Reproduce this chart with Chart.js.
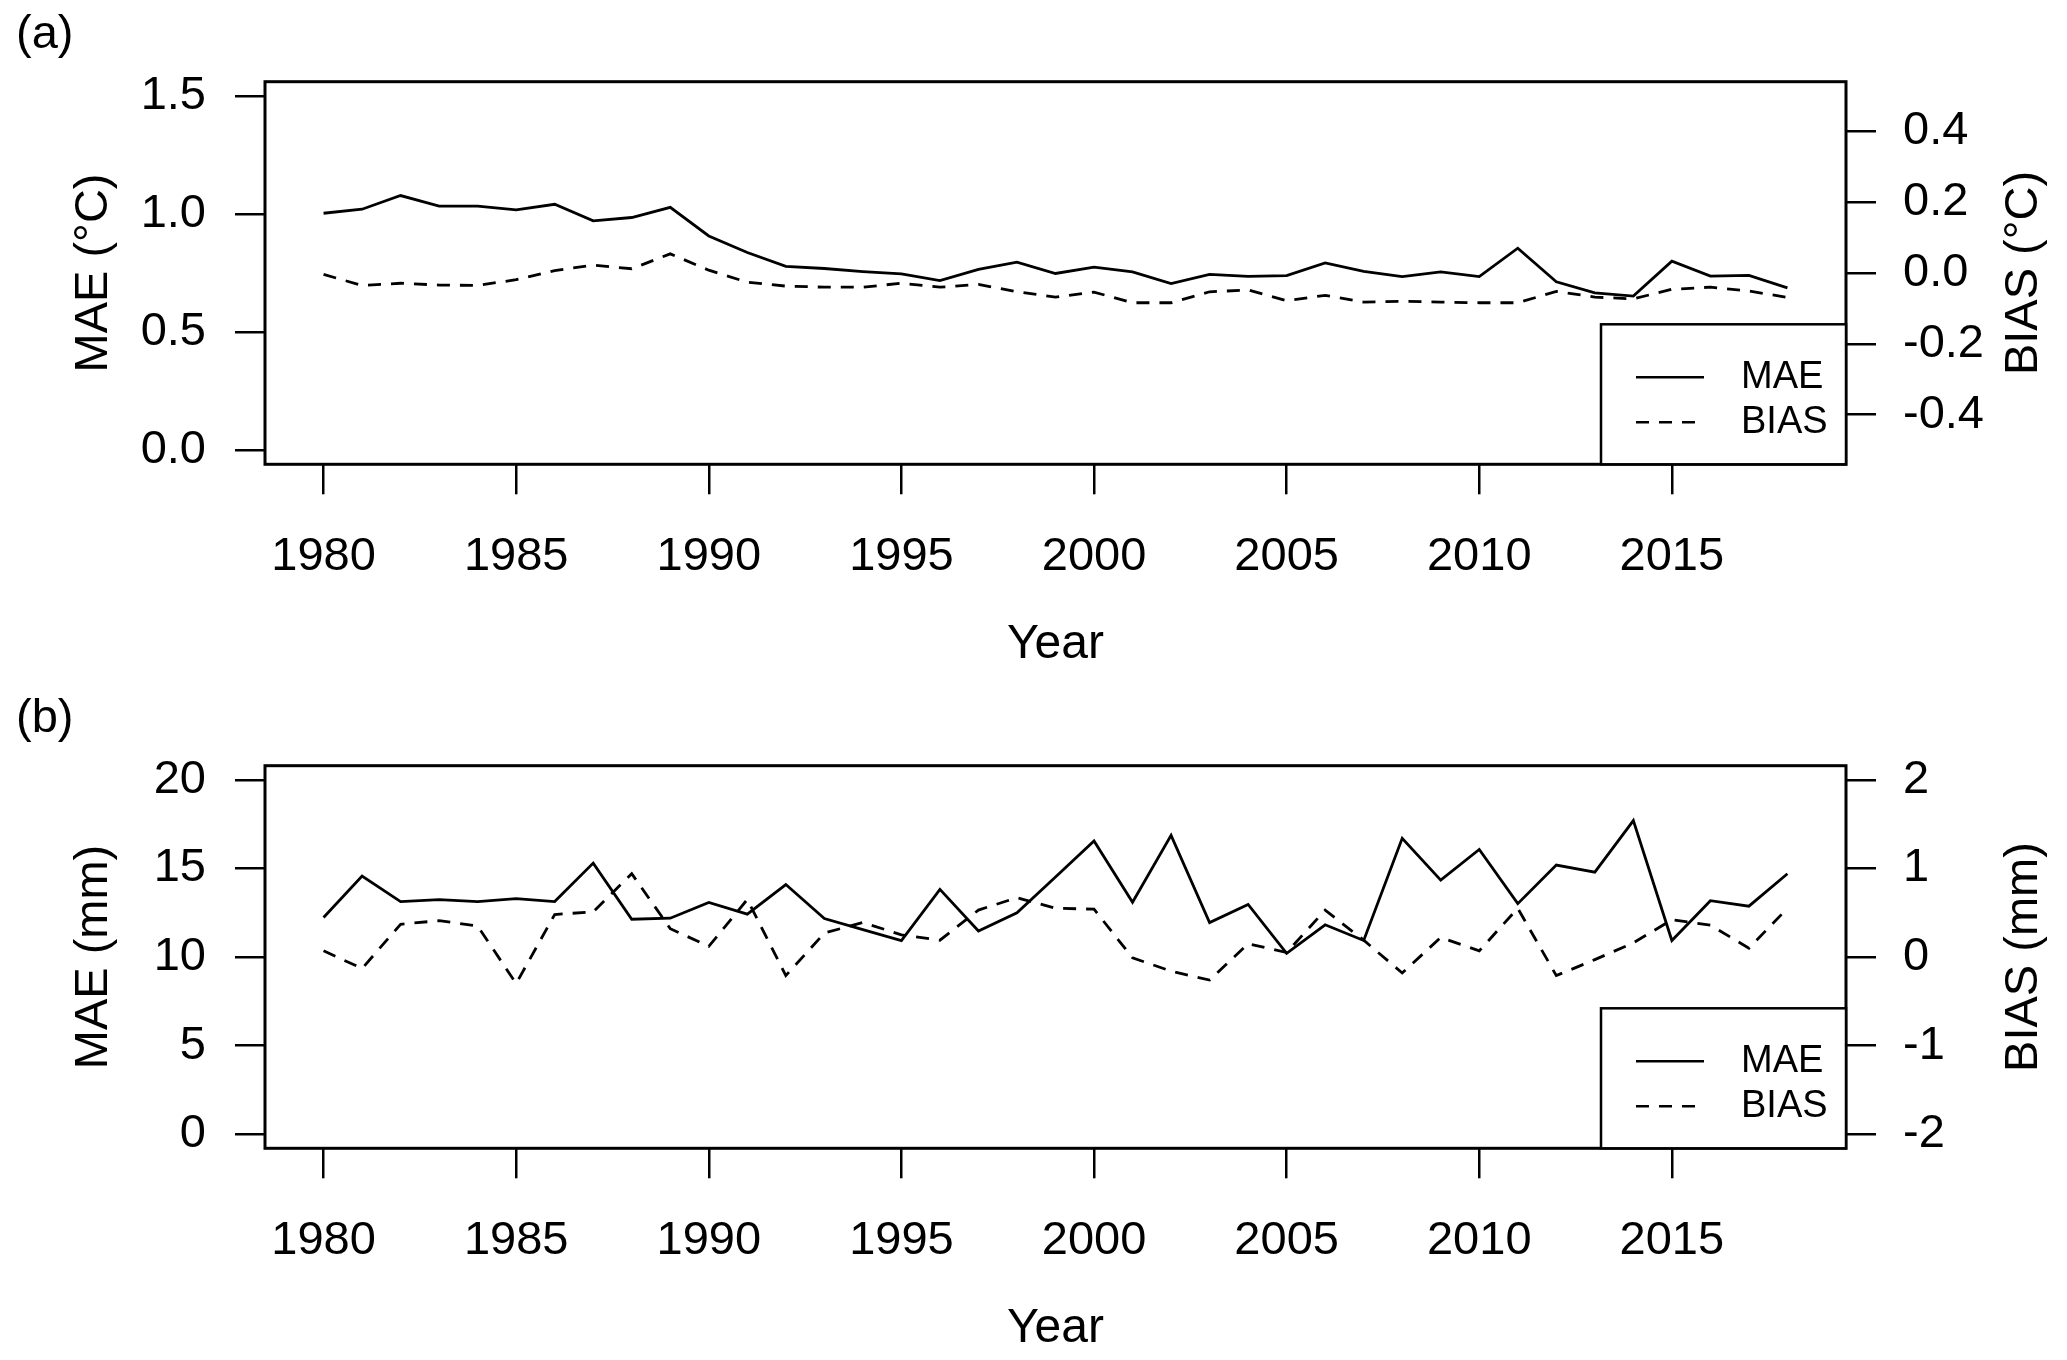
<!DOCTYPE html>
<html>
<head>
<meta charset="utf-8">
<script src="https://cdn.jsdelivr.net/npm/chart.js@4.4.1/dist/chart.umd.min.js"></script>
<style>
html, body { margin: 0; padding: 0; background: #fff; overflow: hidden; }
#wrap { position: relative; width: 2067px; height: 1360px; overflow: hidden; }
canvas { position: absolute; left: 0; }
#chartA { top: 0; }
#chartB { top: 684px; }
</style>
</head>
<body>
<div id="wrap">
  <canvas id="chartA" width="2067" height="680" style="width:2067px;height:680px"></canvas>
  <canvas id="chartB" width="2067" height="680" style="width:2067px;height:680px"></canvas>
</div>
<script>
// years and x tick labels
let years = [];
for (let y = 1980; y <= 2018; y++) years.push(y);
let yearTicks = [1980, 1985, 1990, 1995, 2000, 2005, 2010, 2015];

// (a) temperature
let tempMae = [1.003, 1.020, 1.078, 1.033, 1.033, 1.017, 1.041, 0.971, 0.985, 1.028,
               0.907, 0.837, 0.778, 0.769, 0.756, 0.746, 0.718, 0.765, 0.796, 0.748,
               0.775, 0.755, 0.705, 0.744, 0.736, 0.739, 0.793, 0.757, 0.735, 0.755,
               0.735, 0.855, 0.713, 0.666, 0.652, 0.800, 0.737, 0.740, 0.687];
let tempBias = [-0.004, -0.035, -0.029, -0.034, -0.035, -0.019, 0.007, 0.022, 0.012, 0.054,
                0.008, -0.026, -0.037, -0.040, -0.040, -0.029, -0.040, -0.032, -0.053, -0.068,
                -0.054, -0.084, -0.084, -0.053, -0.048, -0.078, -0.063, -0.082, -0.080, -0.082,
                -0.084, -0.084, -0.052, -0.068, -0.073, -0.046, -0.040, -0.051, -0.069];
let tempMaeTicks = [0, 0.5, 1.0, 1.5];
let tempBiasTicks = [-0.4, -0.2, 0, 0.2, 0.4];

// (b) precipitation
let precMae = [12.23, 14.57, 13.13, 13.24, 13.13, 13.30, 13.13, 15.30, 12.13, 12.19,
               13.08, 12.42, 14.09, 12.17, 11.55, 10.92, 13.82, 11.47, 12.50, 14.52,
               16.55, 13.09, 16.87, 11.94, 12.97, 10.21, 11.82, 10.93, 16.70, 14.34,
               16.07, 13.01, 15.19, 14.79, 17.70, 10.93, 13.18, 12.87, 14.70];
let precBias = [0.07, -0.13, 0.37, 0.41, 0.35, -0.30, 0.48, 0.51, 0.94, 0.32,
                0.12, 0.65, -0.21, 0.27, 0.39, 0.25, 0.19, 0.53, 0.67, 0.55,
                0.54, -0.01, -0.16, -0.26, 0.15, 0.05, 0.53, 0.19, -0.18, 0.22,
                0.07, 0.55, -0.21, -0.03, 0.16, 0.42, 0.36, 0.10, 0.55];
let precMaeTicks = [0, 5, 10, 15, 20];
let precBiasTicks = [-2, -1, 0, 1, 2];

const FAMILY = "'Liberation Sans', Arial, sans-serif";
const DASH = [13, 10];

// box around the plot, legend and the right axis title (R style, reads upward)
const framePlugin = {
    id: 'frame',
    afterDatasetsDraw(chart, args, opts) {
        let ctx = chart.ctx;
        let a = chart.chartArea;
        ctx.save();
        ctx.strokeStyle = '#000';
        ctx.lineWidth = 3;
        ctx.setLineDash([]);
        ctx.strokeRect(a.left, a.top, a.right - a.left, a.bottom - a.top);

        // legend
        let lw = 245, lh = 140;
        let lx = a.right - lw, ly = a.bottom - lh;
        ctx.fillStyle = '#fff';
        ctx.fillRect(lx, ly, lw, lh);
        ctx.lineWidth = 2.5;
        ctx.strokeRect(lx, ly, lw, lh);
        chart.data.datasets.forEach((ds, i) => {
            let y = ly + 53 + i * 45;
            ctx.setLineDash(ds.borderDash || []);
            ctx.lineWidth = 2.5;
            ctx.beginPath();
            ctx.moveTo(lx + 35, y);
            ctx.lineTo(lx + 103, y);
            ctx.stroke();
            ctx.setLineDash([]);
            ctx.font = '38px ' + FAMILY;
            ctx.fillStyle = '#000';
            ctx.textAlign = 'left';
            ctx.textBaseline = 'middle';
            ctx.fillText(ds.label, lx + 140, y);
        });

        // right axis title
        ctx.translate(2037, (a.top + a.bottom) / 2);
        ctx.rotate(-Math.PI / 2);
        ctx.font = '47px ' + FAMILY;
        ctx.textAlign = 'center';
        ctx.textBaseline = 'alphabetic';
        ctx.fillStyle = '#000';
        ctx.fillText(opts.rightTitle, 0, 0);
        ctx.restore();
    }
};

function axisGrid() {
    return { drawOnChartArea: false, drawTicks: true, tickLength: 30, color: '#000', lineWidth: 2.5 };
}

function makeChart(id, panel, mae, bias, leftTicks, rightTicks, leftRange, rightRange, fmt, leftTitle, rightTitle) {
    let ctx = document.getElementById(id).getContext('2d');
    let font = { family: FAMILY, size: 47 };
    return new Chart(ctx, {
        type: 'line',
        data: {
            datasets: [{
                label: 'MAE',
                data: years.map((yr, i) => ({ x: yr, y: mae[i] })),
                borderColor: '#000',
                borderWidth: 2.8,
                pointRadius: 0,
                tension: 0,
                fill: false,
                yAxisID: 'y'
            }, {
                label: 'BIAS',
                data: years.map((yr, i) => ({ x: yr, y: bias[i] })),
                borderColor: '#000',
                borderWidth: 2.8,
                borderDash: DASH,
                pointRadius: 0,
                tension: 0,
                fill: false,
                yAxisID: 'y2'
            }]
        },
        options: {
            responsive: false,
            animation: false,
            devicePixelRatio: 1,
            layout: { padding: { left: 16, top: 0, right: 0, bottom: 0 } },
            plugins: {
                legend: { display: false },
                tooltip: { enabled: false },
                title: {
                    display: true,
                    text: panel,
                    align: 'start',
                    color: '#000',
                    font: { family: FAMILY, size: 47, weight: 'normal', lineHeight: 1 },
                    padding: { top: 12, bottom: 22.7 }
                },
                frame: { rightTitle: rightTitle }
            },
            scales: {
                x: {
                    type: 'linear',
                    position: 'bottom',
                    min: 1978.48,
                    max: 2019.52,
                    afterBuildTicks: s => { s.ticks = yearTicks.map(v => ({ value: v })); },
                    afterFit: s => { s.height = 215.7; },
                    ticks: { color: '#000', font: font, padding: 35, autoSkip: false, maxRotation: 0,
                             callback: v => String(v) },
                    grid: axisGrid(),
                    border: { display: false },
                    title: { display: true, text: 'Year', color: '#000',
                             font: { family: FAMILY, size: 48 }, padding: { bottom: 6 } }
                },
                y: {
                    type: 'linear',
                    position: 'left',
                    min: leftRange[0],
                    max: leftRange[1],
                    afterBuildTicks: s => { s.ticks = leftTicks.map(v => ({ value: v })); },
                    afterFit: s => { s.width = 249; },
                    ticks: { color: '#000', font: font, padding: 29, autoSkip: false, callback: fmt },
                    grid: axisGrid(),
                    border: { display: false },
                    title: { display: true, text: leftTitle, color: '#000', font: font, padding: { top: 50 } }
                },
                y2: {
                    type: 'linear',
                    position: 'right',
                    min: rightRange[0],
                    max: rightRange[1],
                    afterBuildTicks: s => { s.ticks = rightTicks.map(v => ({ value: v })); },
                    afterFit: s => { s.width = 221; },
                    ticks: { color: '#000', font: font, padding: 27, autoSkip: false, callback: fmt },
                    grid: axisGrid(),
                    border: { display: false }
                }
            }
        },
        plugins: [framePlugin]
    });
}

makeChart('chartA', '(a)', tempMae, tempBias, tempMaeTicks, tempBiasTicks,
          [-0.06, 1.56], [-0.54, 0.54], v => v.toFixed(1), 'MAE (°C)', 'BIAS (°C)');
makeChart('chartB', '(b)', precMae, precBias, precMaeTicks, precBiasTicks,
          [-0.8, 20.8], [-2.16, 2.16], v => String(v), 'MAE (mm)', 'BIAS (mm)');
</script>
</body>
</html>
